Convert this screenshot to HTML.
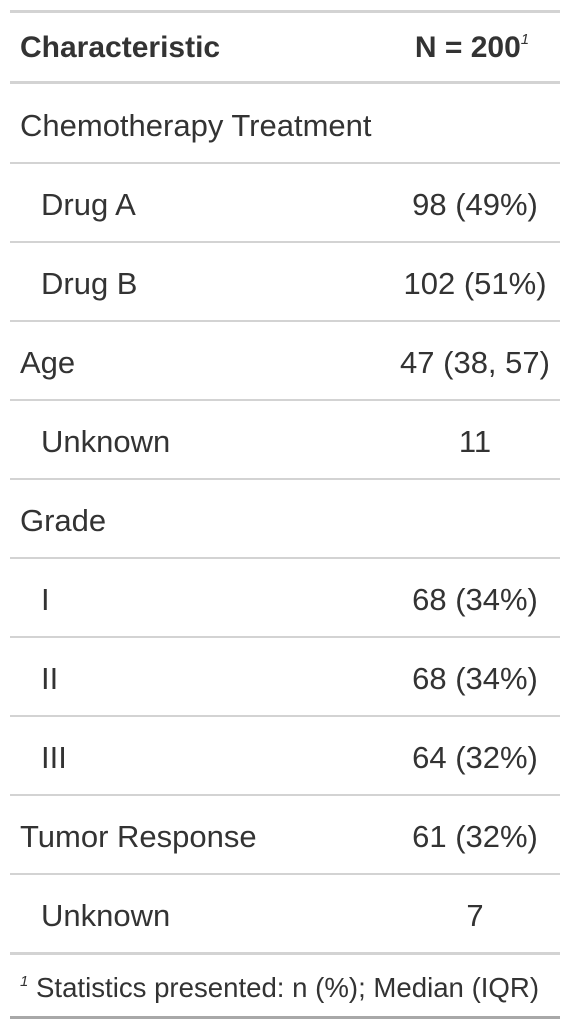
<!DOCTYPE html>
<html><head><meta charset="utf-8"><style>
body{margin:0;width:570px;height:1030px;background:#fff;font-family:"Liberation Sans",sans-serif;color:#333;position:relative;overflow:hidden}
.l{position:absolute;left:10px;width:550px;background:#d3d3d3}
.t{position:absolute;font-size:31px;line-height:34px;white-space:nowrap}
.v{position:absolute;font-size:31px;line-height:34px;white-space:nowrap;width:200px;left:375px;text-align:center}
sup{line-height:0;vertical-align:baseline;position:relative}
</style></head><body>
<div class="l" style="top:10px;height:3px"></div>
<div class="t" style="left:20px;top:31px;font-weight:bold;font-size:30px">Characteristic</div>
<div class="v" style="top:31px;font-weight:bold;font-size:30px;left:372px">N = 200<sup style="font-size:15px;font-style:italic;font-weight:normal;top:-13px">1</sup></div>
<div class="l" style="top:81px;height:3px"></div>
<div id="rows"></div>
<div class="l" style="top:952px;height:3px"></div>
<div class="t" style="left:20px;top:971px;font-size:27.6px"><sup style="font-size:15px;font-style:italic;top:-11px">1</sup> Statistics presented: n (%); Median (IQR)</div>
<div class="l" style="top:1016px;height:3px;background:#a8a8a8"></div>
<script>
const labels=["Chemotherapy Treatment","Drug A","Drug B","Age","Unknown","Grade","I","II","III","Tumor Response","Unknown"];
const indent=[0,1,1,0,1,0,1,1,1,0,1];
const values=["","98 (49%)","102 (51%)","47 (38, 57)","11","","68 (34%)","68 (34%)","64 (32%)","61 (32%)","7"];
const c=document.getElementById('rows');
labels.forEach((lab,i)=>{
 const top=84+i*79;
 const a=document.createElement('div');a.className='t';
 
 
 a.style.left=(indent[i]?41:20)+'px';a.style.top=(top+25)+'px';a.textContent=lab;c.appendChild(a);
 const b=document.createElement('div');b.className='v';
 
 
 b.style.top=(top+25)+'px';b.textContent=values[i];c.appendChild(b);
 if(i<labels.length-1){const l=document.createElement('div');l.className='l';
 
 
 l.style.top=(top+78)+'px';l.style.height='2px';c.appendChild(l);}
});
</script>
</body></html>
